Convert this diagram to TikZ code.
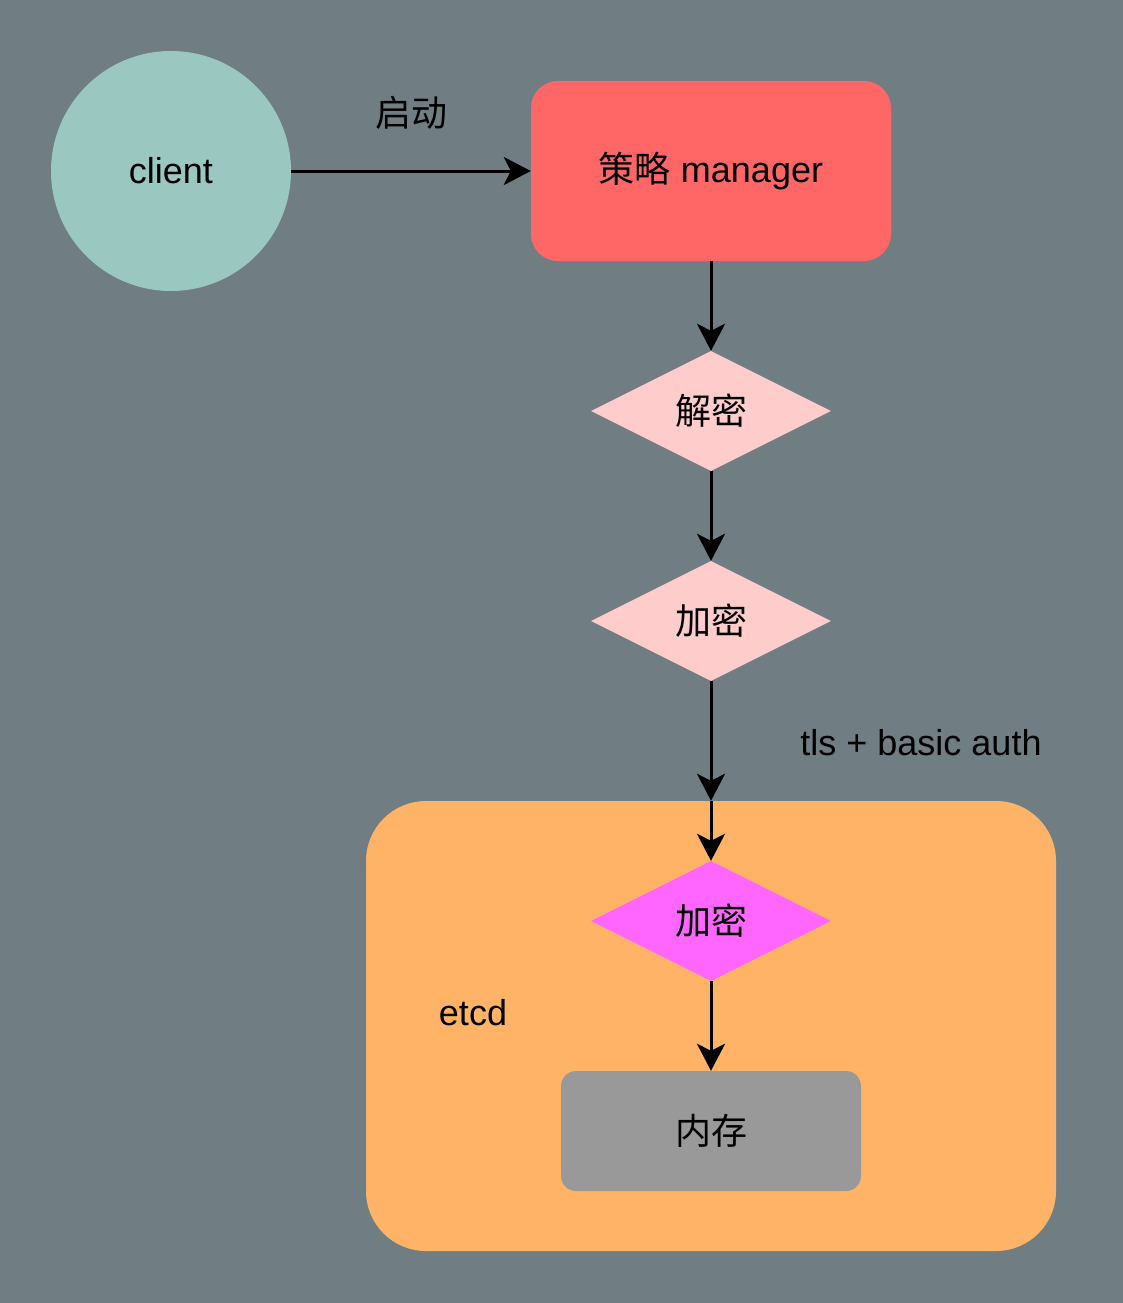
\documentclass[tikz,border=0pt]{standalone}
\usepackage{fontspec}
\setmainfont{Liberation Sans}
\newfontfamily\cjk{Noto Sans CJK SC}
\usetikzlibrary{shapes.geometric,arrows.meta}
\definecolor{bgc}{HTML}{707E84}
\definecolor{clientc}{HTML}{9AC7BF}
\definecolor{mgrc}{HTML}{FF6666}
\definecolor{pinkc}{HTML}{FFCCCC}
\definecolor{etcdc}{HTML}{FFB366}
\definecolor{magc}{HTML}{FF66FF}
\definecolor{memc}{HTML}{999999}
\tikzset{
  lbl/.style={font=\fontsize{36}{40}\selectfont, text=black},
  dia/.style={diamond, aspect=2, minimum width=240pt, minimum height=120pt, inner sep=0pt, lbl},
  conn/.style={line width=3pt, -{Stealth[length=27pt, width=28pt, inset=7pt]}},
}
\begin{document}
\begin{tikzpicture}[x=1pt,y=-1pt]
\fill[bgc] (0,0) rectangle (1123,1303);
\useasboundingbox (0,0) rectangle (1123,1303);
% etcd container
\node[draw=none, fill=etcdc, rounded corners=60pt, minimum width=690pt, minimum height=450pt, inner sep=0pt] (etcd) at (711,1026) {};
\node[lbl] (etcdl) at (473,1013) {etcd};
% client
\node[circle, fill=clientc, minimum size=240pt, inner sep=0pt, lbl] (client) at (171,171) {client};
% manager
\node[fill=mgrc, rounded corners=27pt, minimum width=360pt, minimum height=180pt, inner sep=0pt, lbl] (mgr) at (711,171) {{\cjk 策略} manager};
\node[lbl] (start) at (411,113) {\cjk 启动};
% diamonds
\node[dia, fill=pinkc] (d1) at (711,411) {\cjk 解密};
\node[dia, fill=pinkc] (d2) at (711,621) {\cjk 加密};
\node[lbl] (tls) at (921,743) {tls + basic auth};
\node[dia, fill=magc] (d3) at (711,921) {\cjk 加密};
% memory
\node[fill=memc, rounded corners=15pt, minimum width=300pt, minimum height=120pt, inner sep=0pt, lbl] (mem) at (711,1131) {\cjk 内存};
% connectors
\draw[conn] (client.east) -- (mgr.west);
\draw[conn] (mgr.south) -- (d1.north);
\draw[conn] (d1.south) -- (d2.north);
\draw[conn] (d2.south) -- (etcd.north);
\draw[conn] (etcd.north) -- (d3.north);
\draw[conn] (d3.south) -- (mem.north);
\end{tikzpicture}
\end{document}
